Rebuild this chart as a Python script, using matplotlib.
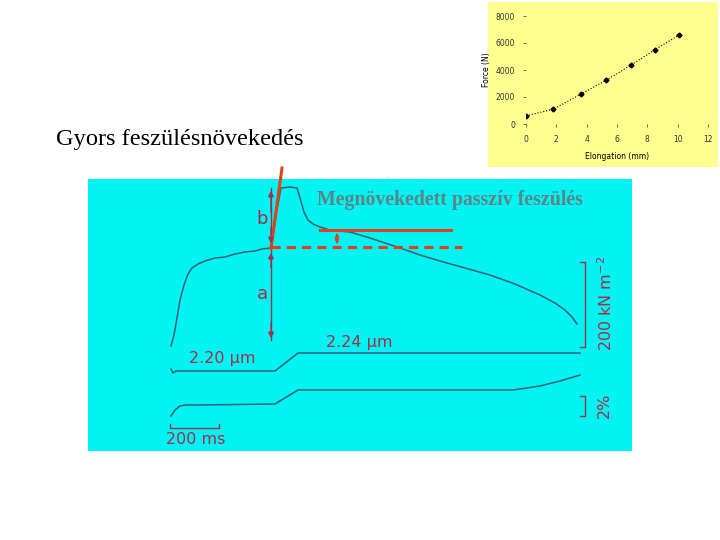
import matplotlib.pyplot as plt

# Inset: force vs elongation
elongation = [0, 1.8, 3.6, 5.3, 6.9, 8.5, 10.1]
force = [600, 1100, 2200, 3250, 4350, 5500, 6600]
inset_xticks = [0, 2, 4, 6, 8, 10, 12]
inset_yticks = [0, 2000, 4000, 6000, 8000]

# Main recording (panel pixel units)
tension_t = [171, 174, 177, 180, 184, 188, 192, 198, 205, 215, 225, 235, 245, 255,
             262, 271, 276, 281, 290, 297, 300, 304, 308, 313, 320, 330, 338, 350,
             360, 370, 385, 400, 420, 440, 465, 490, 515, 540, 555, 565, 572, 577]
tension_v = [346, 335, 318, 300, 285, 274, 268, 264, 261, 258, 257, 254, 252, 251,
             249, 248, 215, 188, 187, 188, 198, 212, 220, 224, 227, 230, 231, 232,
             235, 238, 243, 248, 255, 261, 268, 275, 284, 295, 303, 310, 317, 324]

sl_t = [171, 173, 176, 275, 298, 580]
sl_v = [369, 373, 371, 371, 353, 353]

len_t = [171, 175, 180, 186, 200, 275, 298, 513, 540, 560, 580]
len_v = [416, 410, 406, 405, 405, 404, 390, 390, 386, 381, 375]

trace_col = '#34606e'
label_col = '#a0304c'
red = '#e2401c'

fig = plt.figure(figsize=(7.2, 5.4), dpi=100)
fig.patch.set_facecolor('white')

# ---------- main panel ----------
ax = fig.add_axes([88/720, 1-451/540, 544/720, 272/540])
ax.set_facecolor('#00f4f4')
ax.set_xlim(88, 632)
ax.set_ylim(451, 179)
ax.set_xticks([])
ax.set_yticks([])
for s in ax.spines.values():
    s.set_visible(False)

ax.plot(tension_t, tension_v, color=trace_col, lw=1.1)
ax.plot(sl_t, sl_v, color=trace_col, lw=1.1)
ax.plot(len_t, len_v, color=trace_col, lw=1.1)

# a / b arrows
ax.plot([271, 271], [188, 340], color=label_col, lw=1.0)
ax.annotate('', xy=(271, 188), xytext=(271, 215),
            arrowprops=dict(arrowstyle='-|>', color=label_col, lw=1.0, mutation_scale=8))
ax.annotate('', xy=(271, 246), xytext=(271, 225),
            arrowprops=dict(arrowstyle='-|>', color=label_col, lw=1.0, mutation_scale=8))
ax.annotate('', xy=(271, 250), xytext=(271, 270),
            arrowprops=dict(arrowstyle='-|>', color=label_col, lw=1.0, mutation_scale=8))
ax.annotate('', xy=(271, 341), xytext=(271, 320),
            arrowprops=dict(arrowstyle='-|>', color=label_col, lw=1.0, mutation_scale=8))
ax.text(262, 219, 'b', color=label_col, fontsize=13, ha='center', va='center')
ax.text(262, 294, 'a', color=label_col, fontsize=13, ha='center', va='center')

ax.text(222, 358, '2.20 µm', color=label_col, fontsize=11.5, ha='center', va='center')
ax.text(359, 342, '2.24 µm', color=label_col, fontsize=11.5, ha='center', va='center')

# time scale bar
ax.plot([170, 170, 219, 219], [424, 428, 428, 424], color=label_col, lw=1.0)
ax.text(196, 440, '200 ms', color=label_col, fontsize=11.5, ha='center', va='center')

# vertical scale bars
ax.plot([580, 585, 585, 580], [262, 262, 347, 347], color=label_col, lw=1.0)
ax.text(606, 303, '200 kN m$^{-2}$', color=label_col, fontsize=11.5,
        rotation=90, ha='center', va='center')
ax.plot([580, 585, 585, 580], [396, 396, 416, 416], color=label_col, lw=1.0)
ax.text(604, 405, '2%', color=label_col, fontsize=11.5, rotation=90,
        ha='center', va='center')

# red overlay lines
ax.plot([271, 282], [248, 168], color=red, lw=2.2, clip_on=False)
ax.plot([271, 462], [247, 247], color=red, lw=2.2, ls=(0, (3, 2)))
ax.plot([320, 451], [230, 230], color=red, lw=2.2)
ax.annotate('', xy=(337, 230), xytext=(337, 247),
            arrowprops=dict(arrowstyle='<|-|>', color=red, lw=1.0, mutation_scale=6))

ax.text(450, 200, 'Megnövekedett passzív feszülés', color='#5e8486',
        fontsize=14.3, fontweight='bold', family='Liberation Serif',
        ha='center', va='center')

# ---------- title text ----------
fig.text(56/720, 1-140/540, 'Gyors feszülésnövekedés', fontsize=17.6,
         family='Liberation Serif', ha='left', va='center')

# ---------- inset chart ----------
bg = fig.add_axes([488/720, 1-167/540, 230/720, 165/540])
bg.set_facecolor('#ffff90')
bg.set_xticks([])
bg.set_yticks([])
for s in bg.spines.values():
    s.set_visible(False)

ins = fig.add_axes([526/720, 1-124/540, 182/720, 108/540])
ins.patch.set_alpha(0)
ins.plot(elongation, force, color='black', lw=0.8, ls=':', marker='D', ms=2.5)
ins.set_xlim(0, 12)
ins.set_ylim(0, 8000)
ins.set_xticks(inset_xticks)
ins.set_yticks(inset_yticks)
ins.tick_params(labelsize=5.5, length=2, width=0.5, colors='#333333', pad=6)
for s in ins.spines.values():
    s.set_visible(False)
ins.set_xlabel('Elongation (mm)', fontsize=5.5, labelpad=6)
ins.set_ylabel('Force (N)', fontsize=5.5, labelpad=3)

fig.savefig('out.png', dpi=100)
